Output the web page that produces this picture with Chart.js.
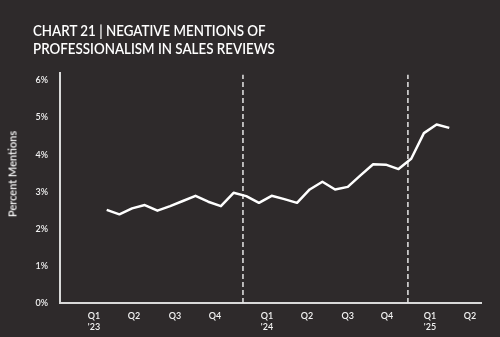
<!DOCTYPE html>
<html>
<head>
<meta charset="utf-8">
<script src="https://cdn.jsdelivr.net/npm/chart.js@4.4.1/dist/chart.umd.min.js"></script>
<style>
  html, body { margin: 0; padding: 0; background: #2e2a2b; }
  #wrap { position: relative; width: 500px; height: 337px; }
  #title {
    position: absolute; left: 33px; top: 21px;
    color: #ffffff; font-family: Lato, "Open Sans", sans-serif;
    font-size: 15px; font-weight: 600; line-height: 18px;
    transform: scaleX(0.89); transform-origin: 0 0; white-space: nowrap;
  }
  #ytitle {
    position: absolute; left: 12px; top: 174px;
    color: #f2f2f2; font-family: Lato, "Open Sans", sans-serif;
    font-size: 11px; font-weight: 600; white-space: nowrap;
    transform: translate(-50%, -50%) rotate(-90deg);
  }
</style>
</head>
<body>
<div id="wrap">
  <div id="title">CHART 21 | NEGATIVE MENTIONS OF<br>PROFESSIONALISM IN SALES REVIEWS</div>
  <div id="ytitle">Percent Mentions</div>
  <canvas id="chart" width="500" height="337"></canvas>
</div>
<script>
// monthly data, Jan 2023 .. Apr 2025 (x = month index)
const months = [
  "Jan 23", "Feb 23", "Mar 23", "Apr 23", "May 23", "Jun 23", "Jul 23", "Aug 23", "Sep 23", "Oct 23", "Nov 23", "Dec 23",
  "Jan 24", "Feb 24", "Mar 24", "Apr 24", "May 24", "Jun 24", "Jul 24", "Aug 24", "Sep 24", "Oct 24", "Nov 24", "Dec 24",
  "Jan 25", "Feb 25", "Mar 25", "Apr 25"
];
const mentions = [
  2.51, 2.39, 2.55, 2.64, 2.49, 2.61, 2.75, 2.89, 2.73, 2.61, 2.97, 2.88,
  2.70, 2.89, 2.80, 2.70, 3.06, 3.27, 3.06, 3.13, 3.44, 3.74, 3.73, 3.61,
  3.89, 4.58, 4.81, 4.72
];

// quarter tick labels and where they sit (in month units)
const quarterLabels = [["Q1", "'23"], "Q2", "Q3", "Q4", ["Q1", "'24"], "Q2", "Q3", "Q4", ["Q1", "'25"], "Q2"];
const quarterPos = [-1.0, 2.15, 5.38, 8.53, 12.63, 15.78, 19.0, 22.09, 25.48, 28.63];

// year divider lines (dashed)
const dividers = [10.74, 23.74];

const yTicks = [0, 1, 2, 3, 4, 5, 6];
const yMax = 6.2;

const font = "Lato, 'Open Sans', sans-serif";

const datasets = [
  {
    label: "Percent Mentions",
    data: months.map((m, i) => ({ x: i, y: mentions[i] })),
    borderColor: "#ffffff",
    borderWidth: 2.5,
    pointRadius: 0,
    tension: 0,
    borderJoinStyle: "round"
  }
];
dividers.forEach(d => {
  datasets.push({
    data: [{ x: d, y: 0 }, { x: d, y: 6.15 }],
    borderColor: "#e6e6e6",
    borderWidth: 1.5,
    borderDash: [5, 3],
    pointRadius: 0
  });
});

new Chart(document.getElementById("chart"), {
  type: "line",
  data: { datasets },
  options: {
    responsive: false,
    animation: false,
    layout: { padding: { top: 73, right: 19, left: 0, bottom: 0 } },
    plugins: { legend: { display: false }, tooltip: { enabled: false } },
    scales: {
      x: {
        type: "linear",
        min: -3.68,
        max: 29.5,
        afterBuildTicks: axis => { axis.ticks = quarterPos.map(v => ({ value: v })); },
        afterFit: axis => { axis.height = 34; },
        grid: { display: false, drawTicks: false },
        border: { color: "#d9d9d9", width: 2 },
        ticks: {
          color: "#f2f2f2",
          font: { family: font, size: 9, weight: "600" },
          padding: 8,
          maxRotation: 0,
          autoSkip: false,
          callback: (v, i) => quarterLabels[i]
        }
      },
      y: {
        min: 0,
        max: yMax,
        afterBuildTicks: axis => { axis.ticks = yTicks.map(v => ({ value: v })); },
        afterFit: axis => { axis.width = 60; },
        grid: { display: false, drawTicks: false },
        border: { color: "#d9d9d9", width: 2 },
        ticks: {
          color: "#f2f2f2",
          font: { family: font, size: 9, weight: "600" },
          padding: 12,
          callback: v => v + "%"
        }
      }
    }
  }
});
</script>
</body>
</html>
